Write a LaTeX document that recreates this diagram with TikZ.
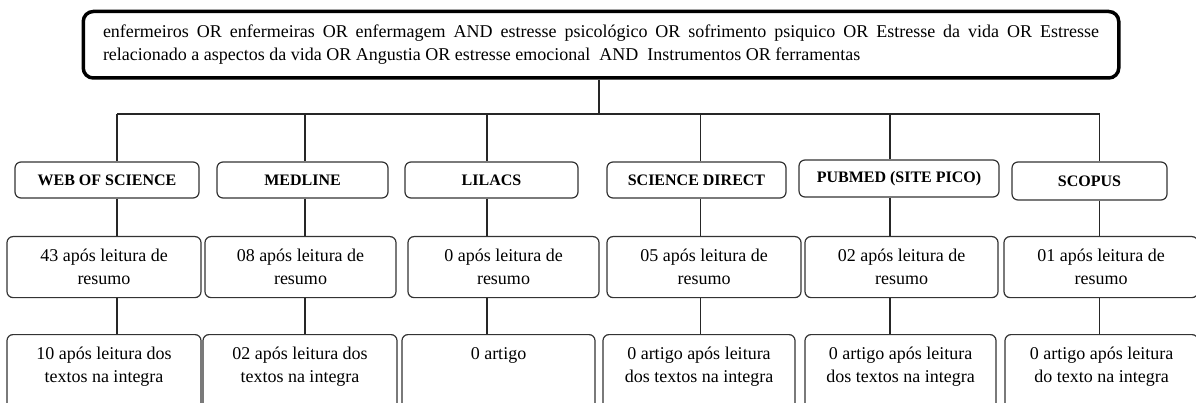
\documentclass[tikz,border=0pt]{standalone}
\usepackage{fontspec}
\setmainfont{Liberation Serif}
\newcommand{\txtbox}[3]{\parbox[c][#1][t]{#2}{\centering\rule{0pt}{25pt}#3}}
\begin{document}
\begin{tikzpicture}[x=1pt,y=1pt,
  every node/.style={font=\fontsize{18}{23}\selectfont},
  dbox/.style={draw=black!80, line width=1.2pt, rounded corners=6pt, inner sep=0pt, fill=white},
  lbl/.style={dbox, font=\fontsize{16}{18}\selectfont\bfseries, align=center, minimum height=36pt},
  rtwo/.style={dbox, anchor=north},
  conn/.style={draw=black!85, line width=1.2pt},
  topbox/.style={draw=black, line width=3.5pt, rounded corners=10pt, inner xsep=19.75pt, inner ysep=0pt, anchor=north}
]
\useasboundingbox (0,0) rectangle (1196,-403);

% top query box
\node[topbox] (top) at (601,-9.75) {\parbox[c][66.5pt][t]{996pt}{\hyphenpenalty=10000 \exhyphenpenalty=10000 \tolerance=10000 \rule{0pt}{26pt}enfermeiros OR enfermeiras OR enfermagem AND estresse psicológico OR sofrimento psiquico OR Estresse da vida OR Estresse relacionado a aspectos da vida OR Angustia OR estresse emocional~~AND~~Instrumentos OR ferramentas}};

% row 1: databases
\node[lbl, minimum width=184pt] (web) at (107,-180) {WEB OF SCIENCE};
\node[lbl, minimum width=171pt] (med) at (302.5,-180) {MEDLINE};
\node[lbl, minimum width=173pt] (lil) at (491.5,-180) {LILACS};
\node[lbl, minimum width=179pt] (sd) at (696.5,-180) {SCIENCE DIRECT};
\node[lbl, minimum width=200pt, minimum height=37pt] (pub) at (899,-178.5) {PUBMED (SITE PICO)};
\node[lbl, minimum width=155pt, minimum height=38pt] (sco) at (1089.5,-181) {SCOPUS};

% row 2: after abstract reading
\node[rtwo] (ra) at (104,-236) {\txtbox{61pt}{194pt}{43 após leitura de\\resumo}};
\node[rtwo] (rb) at (300.5,-236) {\txtbox{61pt}{191pt}{08 após leitura de\\resumo}};
\node[rtwo] (rc) at (503.5,-236) {\txtbox{61pt}{191pt}{0 após leitura de\\resumo}};
\node[rtwo] (rd) at (704,-236) {\txtbox{61pt}{194pt}{05 após leitura de\\resumo}};
\node[rtwo] (re) at (901.5,-236) {\txtbox{61pt}{193pt}{02 após leitura de\\resumo}};
\node[rtwo] (rf) at (1101,-236) {\txtbox{61pt}{194pt}{01 após leitura de\\resumo}};

% row 3: after full text reading
\node[rtwo] (sa) at (104,-334) {\txtbox{90pt}{194pt}{10 após leitura dos\\textos na integra}};
\node[rtwo] (sb) at (300,-334) {\txtbox{90pt}{194pt}{02 após leitura dos\\textos na integra}};
\node[rtwo] (sc) at (498.5,-334) {\txtbox{90pt}{193pt}{0 artigo}};
\node[rtwo] (sd3) at (699,-334) {\txtbox{90pt}{192pt}{0 artigo após leitura\\dos textos na integra}};
\node[rtwo] (se) at (900.5,-334) {\txtbox{90pt}{191pt}{0 artigo após leitura\\dos textos na integra}};
\node[rtwo] (sf) at (1101.5,-334) {\txtbox{90pt}{193pt}{0 artigo após leitura\\do texto na integra}};

% connectors
\coordinate (tj) at (599,-114);
\coordinate (b1) at (117,-114);
\coordinate (b2) at (305,-114);
\coordinate (b3) at (487,-114);
\coordinate (b4) at (700.5,-114);
\coordinate (b5) at (890,-114);
\coordinate (b6) at (1099.5,-114);
\draw[conn] (tj |- top.south) -- (tj);
\draw[conn] (b1) -- (b6);
\foreach \b/\p/\q/\r in {b1/web/ra/sa, b2/med/rb/sb, b3/lil/rc/sc, b4/sd/rd/sd3, b5/pub/re/se, b6/sco/rf/sf}{
  \draw[conn] (\b) -- (\b |- \p.north);
  \draw[conn] (\b |- \p.south) -- (\b |- \q.north);
  \draw[conn] (\b |- \q.south) -- (\b |- \r.north);
}
\end{tikzpicture}
\end{document}
